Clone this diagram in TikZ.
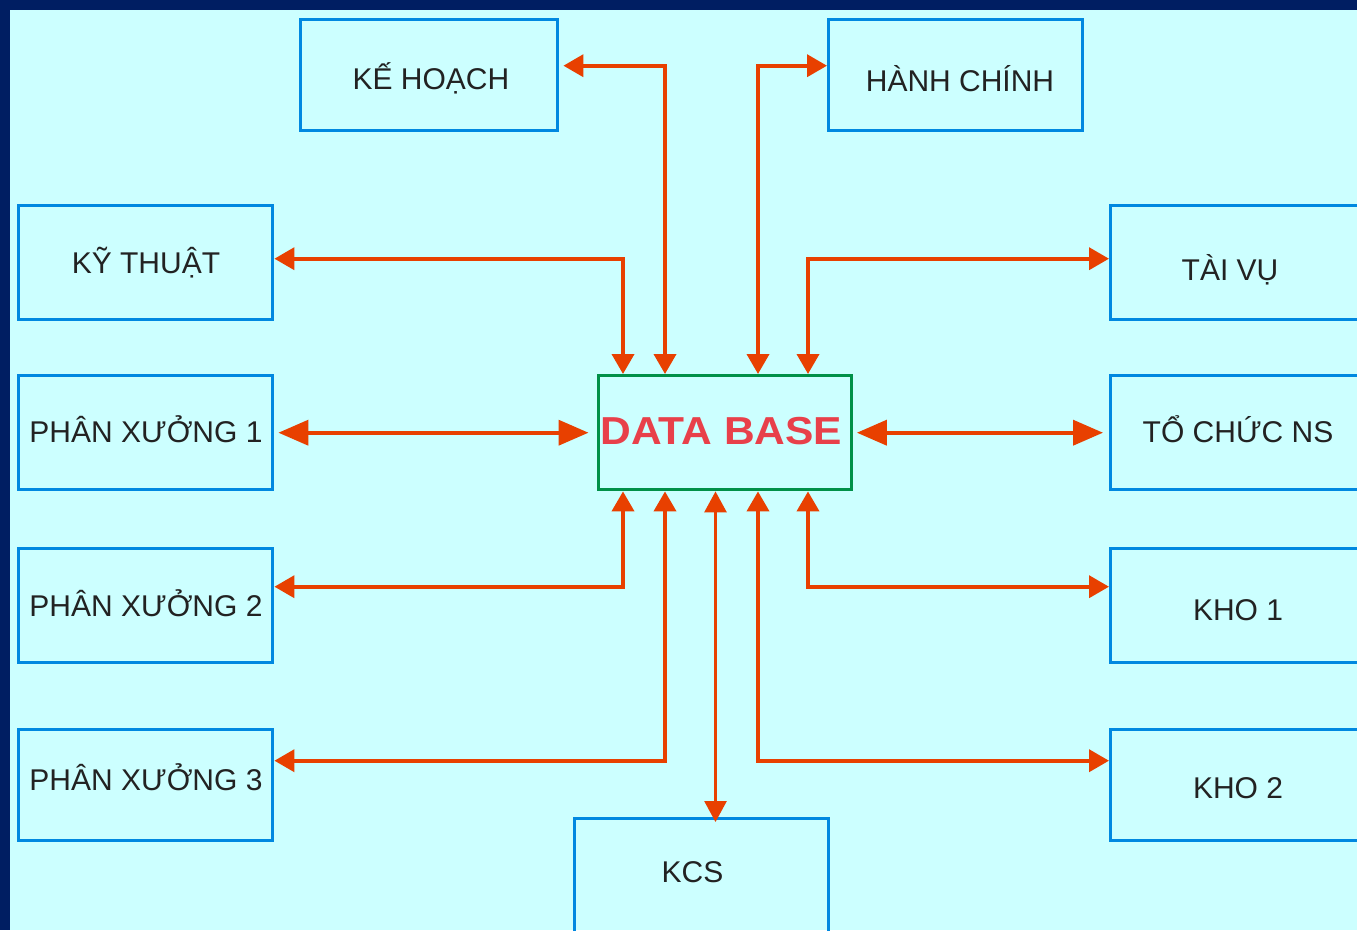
\documentclass[tikz,border=0pt]{standalone}
\usepackage{fontspec}
\usepackage{graphicx}
\setmainfont{Liberation Sans}
\usetikzlibrary{arrows.meta}
\definecolor{navy}{HTML}{001E62}
\definecolor{bgcyan}{HTML}{CCFFFF}
\definecolor{boxblue}{HTML}{0088E0}
\definecolor{dbgreen}{HTML}{009048}
\definecolor{arr}{HTML}{E84000}
\definecolor{txt}{HTML}{222222}
\definecolor{dbred}{HTML}{E8404A}
\begin{document}
\begin{tikzpicture}[x=1pt,y=-1pt,
  box/.style={draw=boxblue,line width=3.4pt,inner sep=0pt,anchor=north west,minimum width=256pt,minimum height=114pt},
  lbl/.style={font=\fontsize{30}{36}\selectfont,text=txt,anchor=base,inner sep=0pt},
  conn/.style={draw=arr,line width=3.8pt,{Triangle[length=20pt,width=22pt]}-{Triangle[length=20pt,width=22pt]}},
  bigconn/.style={draw=arr,line width=3.8pt,{Triangle[length=30pt,width=25pt]}-{Triangle[length=30pt,width=25pt]}},
  kcsconn/.style={draw=arr,line width=2.8pt,{Triangle[length=21pt,width=22pt]}-{Triangle[length=21pt,width=22pt]}}
]
\useasboundingbox (0,0) rectangle (1357,930);
\clip (0,0) rectangle (1357,930);
\fill[navy] (0,0) rectangle (1357,930);
\fill[bgcyan] (10,10) rectangle (1357,930);

% boxes
\node[box,minimum width=257pt,minimum height=111pt] (kh) at (299,18) {};
\node[box,minimum width=254pt,minimum height=111pt] (hc) at (827,18) {};
\node[box,minimum width=254pt] (kt) at (17,204) {};
\node[box] (tv) at (1109,204) {};
\node[box,minimum width=254pt] (px1) at (17,374) {};
\node[box] (tc) at (1109,374) {};
\node[box,draw=dbgreen,minimum width=253pt] (db) at (596.5,374) {};
\node[box,minimum width=254pt] (px2) at (17,547) {};
\node[box] (k1) at (1109,547) {};
\node[box,minimum width=254pt,minimum height=111pt] (px3) at (17,728) {};
\node[box,minimum height=111pt] (k2) at (1109,728) {};
\node[box,minimum width=254pt,minimum height=130pt] (kcs) at (573,817) {};

% labels
\node[lbl] (khT) at (431,89) {KẾ HOẠCH};
\node[lbl] (hcT) at (960,91) {HÀNH CHÍNH};
\node[lbl] (ktT) at (146,273) {KỸ THUẬT};
\node[lbl] (tvT) at (1230,280) {TÀI VỤ};
\node[lbl] (px1T) at (146,442) {PHÂN XƯỞNG 1};
\node[lbl] (tcT) at (1238,442) {TỔ CHỨC NS};
\node[lbl,font=\fontsize{39}{46}\selectfont\bfseries,text=dbred] (dbT) at (721.5,444) {\scalebox{1.09}[1]{DATA BASE}};
\node[lbl] (px2T) at (146,616) {PHÂN XƯỞNG 2};
\node[lbl] (k1T) at (1238,620) {KHO 1};
\node[lbl] (px3T) at (146,790) {PHÂN XƯỞNG 3};
\node[lbl] (k2T) at (1238,798) {KHO 2};
\node[lbl] (kcsT) at (692.5,882) {KCS};

% connectors
\draw[conn] ([xshift=4pt,yshift=9.5pt]kh.east) -| ([xshift=68.5pt]db.north west);
\draw[conn] ([yshift=9.5pt]hc.west) -| ([xshift=161.5pt]db.north west);
\draw[conn] ([yshift=4pt]kt.east) -| ([xshift=26.5pt]db.north west);
\draw[conn] ([yshift=4pt]tv.west) -| ([xshift=211.5pt]db.north west);
\draw[bigconn] ([xshift=4pt]px1.east) -- ([xshift=-8pt]db.west);
\draw[bigconn] ([xshift=4pt]db.east) -- ([xshift=-6pt]tc.west);
\draw[conn] ([yshift=19pt]px2.east) -| ([xshift=26.5pt]db.south west);
\draw[conn] ([yshift=19pt]k1.west) -| ([xshift=211.5pt]db.south west);
\draw[conn] ([yshift=24.5pt]px3.east) -| ([xshift=68.5pt]db.south west);
\draw[conn] ([yshift=24.5pt]k2.west) -| ([xshift=161.5pt]db.south west);
\draw[kcsconn] ([xshift=119pt]db.south west) -- ([xshift=142.5pt,yshift=-5pt]kcs.north west);
\end{tikzpicture}
\end{document}
